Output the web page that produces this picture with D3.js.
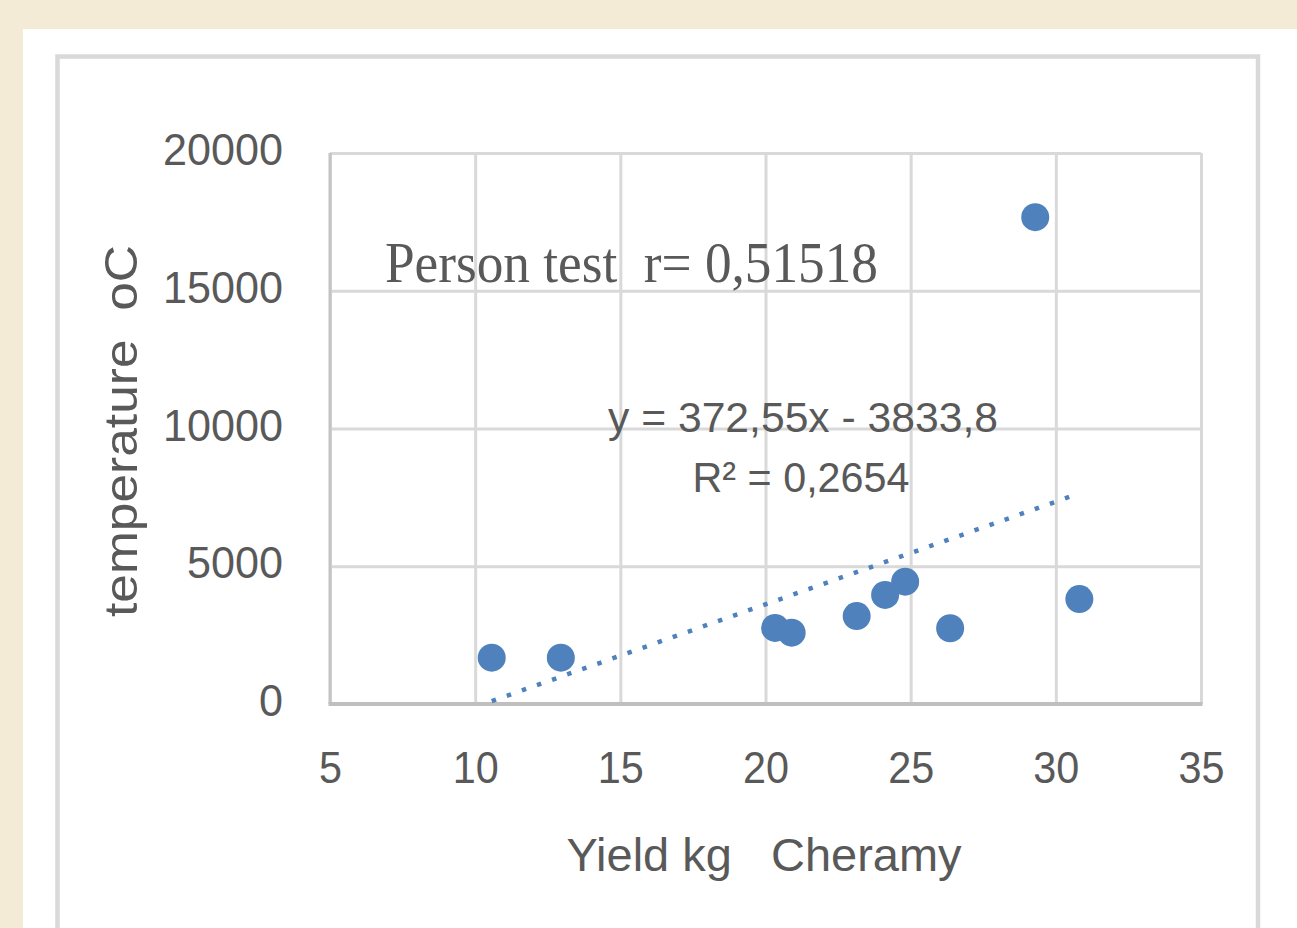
<!DOCTYPE html>
<html>
<head>
<meta charset="utf-8">
<script src="https://cdn.jsdelivr.net/npm/d3@7"></script>
<style>
	body { margin: 0; background: #f3ebd5; }
	#chart text { fill: #595959; }
</style>
</head>
<body>
<div id="chart"></div>
<script>

// data
const yieldKg     = [10.57, 12.95, 20.33, 20.90, 23.14, 24.12, 24.81, 26.36, 29.29, 30.81];
const temperature = [1680, 1680, 2760, 2590, 3190, 3960, 4440, 2750, 17670, 3810];

// tick labels
const xTicks = [5, 10, 15, 20, 25, 30, 35];
const yTicks = [0, 5000, 10000, 15000, 20000];

// excel trendline as printed on the chart
const trendSlope     = 372.55;
const trendIntercept = -3833.8;
const trendLabel     = "y = 372,55x - 3833,8";
const r2Label        = "R\u00b2 = 0,2654";
const pearsonLabel   = "Person test  r= 0,51518";

const xTitle = "Yield kg   Cheramy";
const yTitle = "temperature  oC";

function main() {

	const SVG_WIDTH  = 1297;
	const SVG_HEIGHT = 928;

	// plot area (inside the excel chart)
	var plot = {left: 330, right: 1201, top: 153, bottom: 704};

	var svg = d3.select("#chart")
		.append("svg")
		.attr("width", SVG_WIDTH)
		.attr("height", SVG_HEIGHT)
		.style("display", "block");

	// beige page, white sheet, grey chart border
	svg.append("rect")
		.attr("width", SVG_WIDTH).attr("height", SVG_HEIGHT)
		.attr("fill", "#f3ebd5");
	svg.append("rect")
		.attr("x", 23).attr("y", 29)
		.attr("width", SVG_WIDTH - 23).attr("height", SVG_HEIGHT - 29)
		.attr("fill", "#ffffff");
	svg.append("rect")
		.attr("x", 57.5).attr("y", 56.5)
		.attr("width", 1258 - 57.5).attr("height", 940)
		.attr("fill", "none")
		.attr("stroke", "#d9d9d9")
		.attr("stroke-width", 4.5);

	// scales
	var x = d3.scaleLinear().domain([5, 35]).range([plot.left, plot.right]);
	var y = d3.scaleLinear().domain([0, 20000]).range([plot.bottom, plot.top]);

	var tickFont = "'Liberation Sans', Arial, sans-serif";

	// y axis with horizontal gridlines
	var yAxis = svg.append("g")
		.attr("transform", "translate(" + plot.left + ",0)")
		.call(d3.axisLeft(y)
			.tickValues(yTicks)
			.tickFormat(d3.format("d"))
			.tickSize(-(plot.right - plot.left))
			.tickPadding(47));
	yAxis.select(".domain").remove();
	yAxis.selectAll("line").attr("stroke", "#d9d9d9").attr("stroke-width", 3);
	yAxis.selectAll("text")
		.attr("font-family", tickFont)
		.attr("font-size", 45)
		.attr("dy", "0.26em")
		.attr("textLength", function(d) { return String(d).length * 24; })
		.attr("lengthAdjust", "spacingAndGlyphs");

	// x axis with vertical gridlines
	var xAxis = svg.append("g")
		.attr("transform", "translate(0," + plot.bottom + ")")
		.call(d3.axisBottom(x)
			.tickValues(xTicks)
			.tickSize(-(plot.bottom - plot.top))
			.tickPadding(47));
	xAxis.select(".domain").remove();
	xAxis.selectAll("line").attr("stroke", "#d9d9d9").attr("stroke-width", 3);
	xAxis.selectAll("text")
		.attr("font-family", tickFont)
		.attr("font-size", 45)
		.attr("textLength", function(d) { return String(d).length * 23; })
		.attr("lengthAdjust", "spacingAndGlyphs");

	// axis lines
	svg.append("line")
		.attr("x1", plot.left).attr("x2", plot.left)
		.attr("y1", plot.top).attr("y2", plot.bottom)
		.attr("stroke", "#c4c4c4").attr("stroke-width", 3);
	svg.append("line")
		.attr("x1", plot.left - 1.5).attr("x2", plot.right + 1.5)
		.attr("y1", plot.bottom).attr("y2", plot.bottom)
		.attr("stroke", "#bfbfbf").attr("stroke-width", 4);

	// points
	var points = yieldKg.map(function(v, i) { return {x: v, y: temperature[i]}; });
	svg.selectAll(".dot")
		.data(points)
		.enter()
		.append("circle")
		.attr("class", "dot")
		.attr("cx", function(d) { return x(d.x); })
		.attr("cy", function(d) { return y(d.y); })
		.attr("r", 14)
		.attr("fill", "#4f81bd");

	// dotted linear trendline across the data range
	var xMin = d3.min(yieldKg), xMax = d3.max(yieldKg);
	svg.append("line")
		.attr("x1", x(xMin)).attr("y1", y(trendSlope * xMin + trendIntercept))
		.attr("x2", x(xMax)).attr("y2", y(trendSlope * xMax + trendIntercept))
		.attr("stroke", "#4f81bd")
		.attr("stroke-width", 4.5)
		.attr("stroke-dasharray", "4.5 11.5");

	// labels in the plot
	svg.append("text")
		.attr("x", 385).attr("y", 282)
		.attr("font-family", "'Liberation Serif', 'Times New Roman', serif")
		.attr("font-size", 56)
		.attr("textLength", 493)
		.attr("lengthAdjust", "spacingAndGlyphs")
		.style("white-space", "pre")
		.text(pearsonLabel);

	svg.append("text")
		.attr("x", 803).attr("y", 432)
		.attr("text-anchor", "middle")
		.attr("font-family", tickFont)
		.attr("font-size", 42)
		.attr("textLength", 390)
		.attr("lengthAdjust", "spacingAndGlyphs")
		.text(trendLabel);

	svg.append("text")
		.attr("x", 801).attr("y", 492)
		.attr("text-anchor", "middle")
		.attr("font-family", tickFont)
		.attr("font-size", 42)
		.attr("textLength", 217)
		.attr("lengthAdjust", "spacingAndGlyphs")
		.text(r2Label);

	// axis titles
	svg.append("text")
		.attr("x", 764).attr("y", 871)
		.attr("text-anchor", "middle")
		.attr("font-family", tickFont)
		.attr("font-size", 46)
		.attr("textLength", 395)
		.attr("lengthAdjust", "spacingAndGlyphs")
		.style("white-space", "pre")
		.text(xTitle);

	svg.append("text")
		.attr("transform", "translate(137,431) rotate(-90)")
		.attr("text-anchor", "middle")
		.attr("font-family", tickFont)
		.attr("font-size", 46)
		.attr("textLength", 372)
		.attr("lengthAdjust", "spacingAndGlyphs")
		.style("white-space", "pre")
		.text(yTitle);
}

function whenDocumentLoaded(action) {
	if (document.readyState === "loading") {
		document.addEventListener("DOMContentLoaded", action);
	} else {
		action();
	}
}

whenDocumentLoaded(() => {
	main()
});
</script>
</body>
</html>
